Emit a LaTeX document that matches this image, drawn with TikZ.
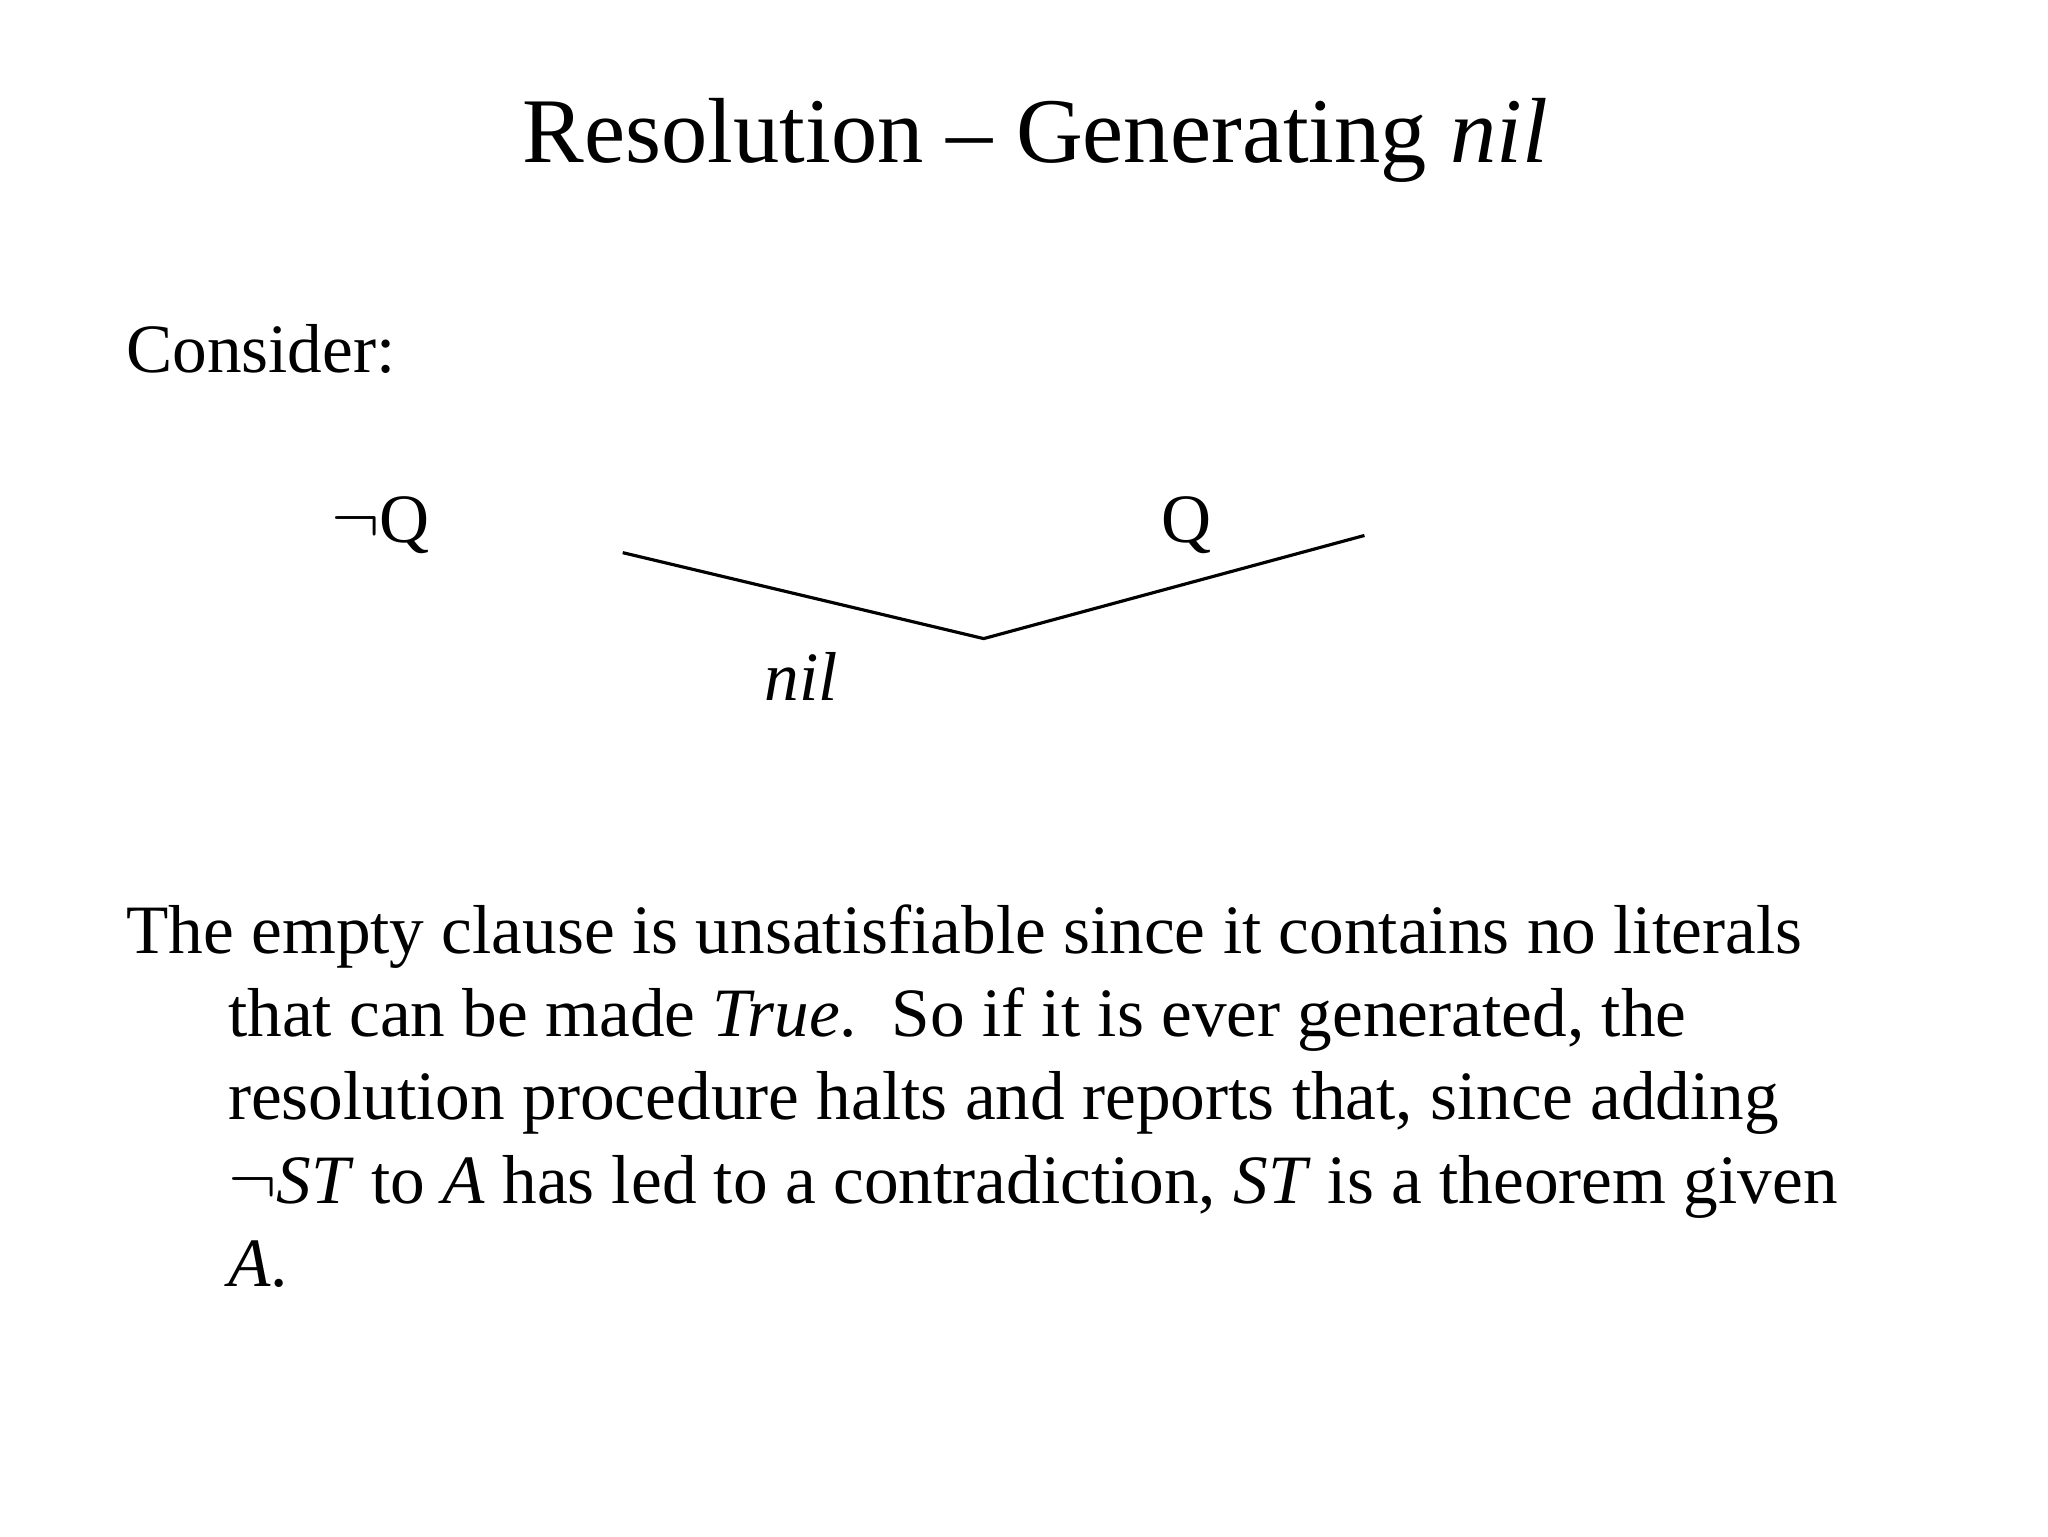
\documentclass[tikz,border=0pt]{standalone}
\usepackage{fontspec}
\setmainfont{Liberation Serif}
\begin{document}
\begin{tikzpicture}[x=0.01322cm,y=-0.01322cm,
  body/.style={anchor=base west,inner sep=0pt,font=\fontsize{19.7}{22}\selectfont},
  ttl/.style={anchor=base,inner sep=0pt,font=\fontsize{26.3}{29}\selectfont},
  edge/.style={line width=0.9pt}]
\useasboundingbox[fill=white] (0,0) rectangle (1549,1162);
\node[ttl] (title) at (783,123) {Resolution -- Generating \textit{nil}};
\node[body] (consider) at (95,282) {Consider:};
\node[body] (nq) at (250,410) {$\neg$Q};
\node[body] (q) at (878,410) {Q};
\node[body] (nil) at (578,530) {\textit{nil}};
\coordinate (l) at (471,418);
\coordinate (m) at (744,483);
\coordinate (r) at (1032,405);
\draw[edge] (l) -- (m) -- (r);
\node[body] (p1) at (95,721) {The empty clause is unsatisfiable since it contains no literals};
\node[body] (p2) at (172,784) {that can be made \textit{True}.\ \ So if it is ever generated, the};
\node[body] (p3) at (172,847) {resolution procedure halts and reports that, since adding};
\node[body] (p4) at (172,910) {$\neg$\textit{ST} to \textit{A} has led to a contradiction, \textit{ST} is a theorem given};
\node[body] (p5) at (172,973) {\textit{A}.};
\end{tikzpicture}
\end{document}
